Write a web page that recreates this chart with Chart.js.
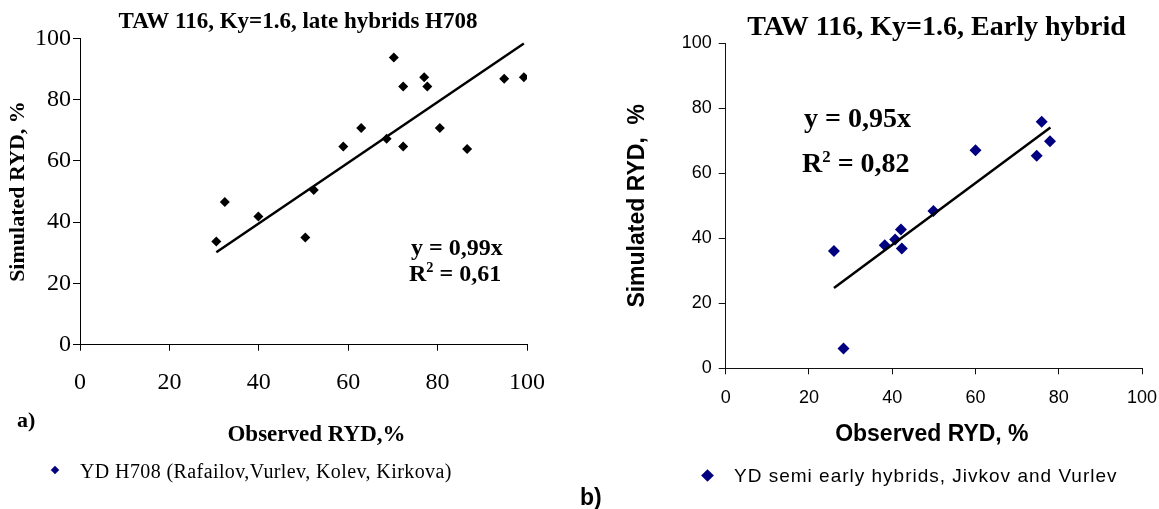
<!DOCTYPE html>
<html>
<head>
<meta charset="utf-8">
<script src="https://cdn.jsdelivr.net/npm/chart.js@4.4.1/dist/chart.umd.min.js"></script>
<style>
  html, body { margin: 0; padding: 0; background: #fff; width: 1159px; height: 509px; overflow: hidden; position: relative; }
  canvas { position: absolute; top: 0; }
  #cL { left: 0; }
  #cR { left: 580px; }
  .t { position: absolute; white-space: nowrap; line-height: 1; color: #000; }
  .serif { font-family: "Liberation Serif", "Times New Roman", serif; }
  .sans { font-family: "Liberation Sans", Arial, sans-serif; }
  .b { font-weight: bold; }
  .dia { position: absolute; background: #000080; transform: rotate(45deg); }
  sup { font-size: 60%; vertical-align: 0.6em; line-height: 0; }
</style>
</head>
<body>
<canvas id="cL" width="596" height="509" style="width:596px;height:509px"></canvas>
<canvas id="cR" width="713" height="509" style="width:713px;height:509px"></canvas>

<div class="t serif b" style="left:411px;top:235px;font-size:24px;">y = 0,99x</div>
<div class="t serif b" style="left:409px;top:261px;font-size:24px;">R<sup>2</sup> = 0,61</div>
<div class="t serif b" style="left:804px;top:104px;font-size:28px;">y = 0,95x</div>
<div class="t serif b" style="left:802px;top:149px;font-size:28px;">R<sup>2</sup> = 0,82</div>
<div class="t serif b" style="left:17px;top:409px;font-size:22px;">a)</div>
<div class="t sans b" style="left:580px;top:486px;font-size:23px;">b)</div>

<div class="dia" style="left:52px;top:467px;width:6px;height:6px;"></div>
<div class="t serif" style="left:80px;top:461px;font-size:20px;letter-spacing:0.4px;">YD H708 (Rafailov,Vurlev, Kolev, Kirkova)</div>
<div class="dia" style="left:703px;top:471px;width:9px;height:9px;"></div>
<div class="t sans" style="left:734px;top:466px;font-size:19px;letter-spacing:1px;">YD semi early hybrids, Jivkov and Vurlev</div>

<script>
// ---- data ----
const leftObserved  = [30.5, 32.4, 39.9, 50.4, 52.3, 58.9, 62.9, 68.6, 70.2, 72.3, 72.3, 77.0, 77.7, 80.5, 86.6, 94.9, 99.3];
const leftSimulated = [33.7, 46.6, 41.8, 35.0, 50.5, 64.7, 70.7, 67.2, 93.7, 84.3, 64.7, 87.3, 84.3, 70.7, 63.9, 86.8, 87.3];
const leftTrendX = [30.5, 99.3];
const leftTrendY = [30.2, 98.3];

const rightObserved  = [26.0, 28.3, 38.2, 40.7, 42.1, 42.3, 49.9, 60.0, 74.7, 75.9, 77.9];
const rightSimulated = [36.1, 6.1, 37.9, 39.6, 42.7, 36.9, 48.4, 67.1, 65.4, 75.9, 69.9];
const rightTrendX = [26.0, 78.0];
const rightTrendY = [24.7, 74.1];

const axisTicks = [0, 20, 40, 60, 80, 100];

const leftTitle = 'TAW 116, Ky=1.6, late hybrids H708';
const rightTitle = 'TAW 116, Ky=1.6, Early hybrid';
const leftSeriesName = 'YD H708 (Rafailov,Vurlev, Kolev, Kirkova)';
const rightSeriesName = 'YD semi early hybrids, Jivkov and Vurlev';

function pts(xs, ys) { return xs.map((x, i) => ({ x: x, y: ys[i] })); }

const SERIF = '"Liberation Serif", "Times New Roman", serif';
const SANS = '"Liberation Sans", Arial, sans-serif';

// shifts the x-axis title horizontally (the reference title is not centred on the axis)
const xTitleShift = {
  id: 'xTitleShift',
  afterLayout(chart, args, opts) {
    const s = chart.scales.x;
    const dx = (opts && opts.dx) || 0;
    if (!s || !dx || s._shiftPatched) return;
    const orig = s.drawTitle;
    s.drawTitle = function () {
      const c = this.ctx;
      c.save(); c.translate(dx, 0);
      orig.apply(this, arguments);
      c.restore();
    };
    s._shiftPatched = true;
  }
};

function makeChart(id, cfg) {
  return new Chart(document.getElementById(id), {
    type: 'scatter',
    plugins: [xTitleShift],
    data: {
      datasets: [
        {
          label: cfg.seriesName,
          data: pts(cfg.obs, cfg.sim),
          pointStyle: 'rectRot',
          pointRadius: cfg.pointRadius,
          pointHoverRadius: cfg.pointRadius,
          backgroundColor: cfg.pointColor,
          borderColor: cfg.pointColor,
          borderWidth: 0,
          order: 1
        },
        {
          label: 'trend',
          type: 'line',
          data: pts(cfg.trendX, cfg.trendY),
          borderColor: '#000',
          borderWidth: 2.5,
          pointRadius: 0,
          fill: false,
          order: 0
        }
      ]
    },
    options: {
      responsive: false,
      animation: false,
      events: [],
      layout: { padding: { left: 0, right: 0, top: 0, bottom: cfg.padBottom } },
      plugins: {
        legend: { display: false },
        tooltip: { enabled: false },
        xTitleShift: { dx: cfg.xTitleDx },
        title: {
          display: true,
          text: cfg.title,
          color: '#000',
          font: { family: SERIF, weight: 'bold', size: cfg.titleSize, lineHeight: cfg.titleLH },
          padding: { top: cfg.titlePadTop, bottom: cfg.titlePadBottom }
        }
      },
      scales: {
        x: {
          type: 'linear', position: 'bottom', min: 0, max: 100,
          afterBuildTicks: s => { s.ticks = axisTicks.map(v => ({ value: v })); },
          afterFit: s => { s.height = cfg.xHeight; },
          ticks: { color: '#000', font: { family: cfg.tickFamily, size: cfg.tickSize }, padding: cfg.xTickPad, maxRotation: 0, autoSkip: false },
          grid: { display: true, drawOnChartArea: false, drawTicks: true, tickLength: 6, color: cfg.axisColor, lineWidth: 1 },
          border: { display: true, color: cfg.axisColor, width: 1 },
          title: { display: true, text: cfg.xTitle, color: '#000', font: { family: cfg.axisFamily, weight: 'bold', size: cfg.axisTitleSize, lineHeight: 1.2 }, padding: { top: 0, bottom: 0 } }
        },
        y: {
          type: 'linear', position: 'left', min: 0, max: 100,
          afterBuildTicks: s => { s.ticks = axisTicks.map(v => ({ value: v })); },
          afterFit: s => { s.width = cfg.yWidth; },
          ticks: { color: '#000', font: { family: cfg.tickFamily, size: cfg.tickSize }, padding: cfg.yTickPad },
          grid: { display: true, drawOnChartArea: false, drawTicks: true, tickLength: 7, color: cfg.axisColor, lineWidth: 1 },
          border: { display: true, color: cfg.axisColor, width: 1 },
          title: { display: true, text: cfg.yTitle, color: '#000', font: { family: cfg.axisFamily, weight: 'bold', size: cfg.yTitleSize, lineHeight: 1.2 }, padding: { top: cfg.yTitlePad, bottom: 0 } }
        },
        spacer: {
          type: 'linear', position: 'right', display: true,
          afterFit: s => { s.width = cfg.rightSpace; },
          ticks: { display: false },
          grid: { display: false },
          border: { display: false }
        }
      }
    }
  });
}

makeChart('cL', {
  seriesName: leftSeriesName, title: leftTitle,
  obs: leftObserved, sim: leftSimulated, trendX: leftTrendX, trendY: leftTrendY,
  pointRadius: 5, pointColor: '#000', axisColor: '#000',
  titleSize: 23, titleLH: 1.2, titlePadTop: 8.2, titlePadBottom: 2.5,
  tickFamily: SERIF, tickSize: 24, axisFamily: SERIF, axisTitleSize: 23, yTitleSize: 22,
  xTitle: 'Observed RYD,%', yTitle: 'Simulated RYD, %', xTitleDx: 13,
  xHeight: 104.1, yWidth: 80, rightSpace: 69, padBottom: 60.2,
  xTickPad: 18, yTickPad: 2, yTitlePad: 4.8
});

makeChart('cR', {
  seriesName: rightSeriesName, title: rightTitle,
  obs: rightObserved, sim: rightSimulated, trendX: rightTrendX, trendY: rightTrendY,
  pointRadius: 6, pointColor: '#000080', axisColor: '#111',
  titleSize: 28, titleLH: 1.1, titlePadTop: 12.5, titlePadBottom: 0,
  tickFamily: SANS, tickSize: 18, axisFamily: SANS, axisTitleSize: 23, yTitleSize: 23,
  xTitle: 'Observed RYD, %', yTitle: 'Simulated RYD,  %', xTitleDx: -2,
  xHeight: 80.5, yWidth: 145.7, rightSpace: 151, padBottom: 60.2,
  xTickPad: 12.5, yTickPad: 7, yTitlePad: 43.6
});
</script>
</body>
</html>
